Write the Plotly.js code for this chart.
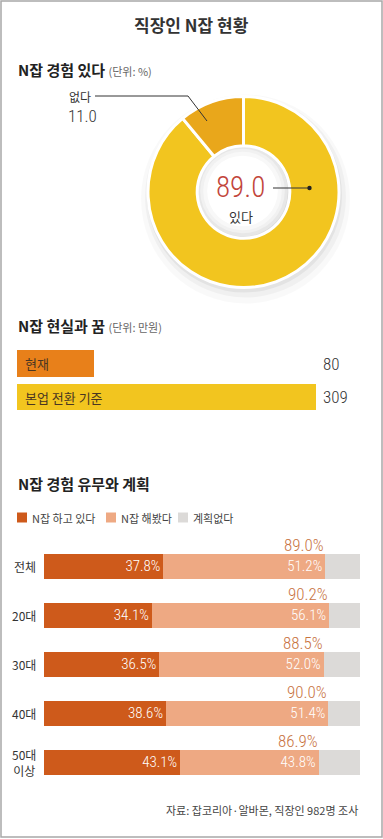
<!DOCTYPE html>
<html><head><meta charset="utf-8">
<script src="https://cdn.plot.ly/plotly-3.0.1.min.js"></script>
<style>html,body{margin:0;padding:0;background:#fff;}#chart{width:383px;height:839px;}</style>
</head><body><div id="chart"></div>
<script>
// ---- Data ----
const donutLabels = ['있다', '없다'];
const donutValues = [89.0, 11.0];

const incomeLabels = ['현재', '본업 전환 기준'];
const incomeValues = [80, 309];

const groupLabels = ['전체', '20대', '30대', '40대', '50대<br>이상'];
const doingValues = [37.8, 34.1, 36.5, 38.6, 43.1];
const triedValues = [51.2, 56.1, 52.0, 51.4, 43.8];
const noPlanValues = [11.0, 9.8, 11.5, 10.0, 13.1];
const totalValues = [89.0, 90.2, 88.5, 90.0, 86.9];

const seriesNames = ['N잡 하고 있다', 'N잡 해봤다', '계획없다'];

// ---- Helpers ----
const W = 383, H = 839;
const px = x => x / W;
const py = y => 1 - y / H;
const KR = '"Noto Sans CJK KR", "Noto Sans", sans-serif';
const NUM = '"Roboto Condensed", Roboto, "Noto Sans CJK KR", sans-serif';
const NUMW = 300;

const C_DOING = '#CE5A1B', C_TRIED = '#EEA983', C_NO = '#DCDAD8';

function circle(cx, cy, r, fill, layer) {
  return {type: 'circle', xref: 'paper', yref: 'paper', layer: layer || 'below',
    x0: px(cx - r), x1: px(cx + r), y0: py(cy + r), y1: py(cy - r),
    fillcolor: fill, line: {width: 0}};
}

const donutCx = 243.5, donutCy = 192, donutR = 95.5;

// ---- Traces ----
const traces = [];
traces.push({
  type: 'pie', values: donutValues, labels: donutLabels, sort: false,
  direction: 'clockwise', rotation: 0, hole: 0.485,
  marker: {colors: ['#F2C51F', '#E9A71B'], line: {color: '#ffffff', width: 3}},
  textinfo: 'none', hoverinfo: 'skip', showlegend: false,
  domain: {x: [px(donutCx - donutR), px(donutCx + donutR)], y: [py(donutCy + donutR), py(donutCy - donutR)]}
});

traces.push({
  type: 'bar', orientation: 'h', x: incomeValues, y: incomeLabels,
  xaxis: 'x', yaxis: 'y', width: 0.79,
  marker: {color: ['#E8801A', '#F2C51F']}, hoverinfo: 'skip', showlegend: false
});

const fmt = v => v.toFixed(1) + '%';
[[doingValues, C_DOING, true], [triedValues, C_TRIED, true], [noPlanValues, C_NO, false]].forEach((s, i) => {
  traces.push({
    type: 'bar', orientation: 'h', x: s[0], y: groupLabels, name: seriesNames[i],
    xaxis: 'x2', yaxis: 'y2', width: 0.51,
    marker: {color: s[1]},
    text: s[2] ? s[0].map(fmt) : undefined,
    textposition: s[2] ? 'inside' : 'none',
    insidetextanchor: 'end',
    textfont: {family: NUM, size: 15, color: '#ffffff', weight: NUMW},
    hoverinfo: 'skip', showlegend: false
  });
});

// ---- Annotations ----
const ann = [];
ann.push({xref: 'paper', yref: 'paper', x: px(191.5), y: py(25), xanchor: 'center', yanchor: 'middle',
  text: '<b>직장인 N잡 현황</b>', showarrow: false, font: {family: KR, size: 17, color: '#333'}});

function heading(y, main, unit) {
  ann.push({xref: 'paper', yref: 'paper', x: px(16), y: py(y), xanchor: 'left', yanchor: 'middle', showarrow: false,
    text: '<b>' + main + '</b>' + (unit ? ' <span style="font-size:11px;color:#666">' + unit + '</span>' : ''),
    font: {family: KR, size: 15, color: '#222'}});
}
heading(69, 'N잡 경험 있다', '(단위: %)');
heading(325, 'N잡 현실과 꿈', '(단위: 만원)');
heading(483, 'N잡 경험 유무와 계획', '');

// donut labels
ann.push({xref: 'paper', yref: 'paper', x: px(67), y: py(96), xanchor: 'left', yanchor: 'middle', showarrow: false,
  text: donutLabels[1], font: {family: KR, size: 12, color: '#333'}});
ann.push({xref: 'paper', yref: 'paper', x: px(66), y: py(116), xanchor: 'left', yanchor: 'middle', showarrow: false,
  text: donutValues[1].toFixed(1), font: {family: NUM, size: 17, color: '#333', weight: NUMW}});
ann.push({xref: 'paper', yref: 'paper', x: px(240), y: py(187), xanchor: 'center', yanchor: 'middle', showarrow: false,
  text: donutValues[0].toFixed(1), font: {family: NUM, size: 29, color: '#C2453A', weight: NUMW}});
ann.push({xref: 'paper', yref: 'paper', x: px(241), y: py(216), xanchor: 'center', yanchor: 'middle', showarrow: false,
  text: donutLabels[0], font: {family: KR, size: 13, color: '#333'}});

// income bars
incomeLabels.forEach((lab, i) => {
  ann.push({xref: 'x', yref: 'y', x: 0, y: lab, xanchor: 'left', yanchor: 'middle', xshift: 6, showarrow: false,
    text: lab, font: {family: KR, size: 13, color: '#4a3622'}});
  ann.push({xref: 'paper', yref: 'y', x: px(321), y: lab, xanchor: 'left', yanchor: 'middle', showarrow: false,
    text: String(incomeValues[i]), font: {family: NUM, size: 17, color: '#333', weight: NUMW}});
});

// group labels and totals
groupLabels.forEach((lab, i) => {
  ann.push({xref: 'paper', yref: 'y2', x: px(38), y: lab, xanchor: 'right', yanchor: 'middle', showarrow: false,
    text: lab, align: 'center', font: {family: KR, size: 12, color: '#333'}});
  ann.push({xref: 'x2', yref: 'y2', x: totalValues[i], y: lab, xanchor: 'right', yanchor: 'middle', yshift: 21, xshift: 1,
    showarrow: false, text: fmt(totalValues[i]), font: {family: NUM, size: 17, color: '#C8733F', weight: NUMW}});
});

// legend
const legendX = [[17, 31], [106, 120], [178, 192]];
const legendColors = [C_DOING, C_TRIED, C_NO];
const shapes = [];
seriesNames.forEach((n, i) => {
  shapes.push({type: 'rect', xref: 'paper', yref: 'paper', x0: px(legendX[i][0]), x1: px(legendX[i][0] + 10),
    y0: py(522.5), y1: py(512.5), fillcolor: legendColors[i], line: {width: 0}});
  ann.push({xref: 'paper', yref: 'paper', x: px(legendX[i][1] - 1), y: py(517.5), xanchor: 'left', yanchor: 'middle', showarrow: false,
    text: n, font: {family: KR, size: 11, color: '#444'}});
});

// source
ann.push({xref: 'paper', yref: 'paper', x: px(360), y: py(810), xanchor: 'right', yanchor: 'middle', showarrow: false,
  text: '자료: 잡코리아·알바몬, 직장인 982명 조사', font: {family: KR, size: 11, color: '#444'}});

// ---- Shapes ----
// soft drop shadow under donut
shapes.push(circle(donutCx + 2, donutCy + 7, donutR + 9, 'rgba(0,0,0,0.025)'));
shapes.push(circle(donutCx + 2, donutCy + 5, donutR + 5, 'rgba(0,0,0,0.035)'));
shapes.push(circle(donutCx + 1, donutCy + 3, donutR + 2, 'rgba(0,0,0,0.05)'));
// inner shading of the hole
const holeR = donutR * 0.485;
shapes.push(circle(donutCx, donutCy, holeR + 1, '#d9d9d9'));
shapes.push(circle(donutCx - 0.5, donutCy - 0.5, holeR - 1.5, '#e7e7e7'));
shapes.push(circle(donutCx - 1, donutCy - 1, holeR - 4, '#f1f1f1'));
shapes.push(circle(donutCx - 1, donutCy - 1, holeR - 7, '#f8f8f8'));
shapes.push(circle(donutCx - 1, donutCy - 1, holeR - 11, '#ffffff'));

// leader lines
shapes.push({type: 'path', xref: 'paper', yref: 'paper', layer: 'above',
  path: `M ${px(95)} ${py(96)} L ${px(188)} ${py(96)} L ${px(207)} ${py(121)}`,
  line: {color: '#333', width: 1}});
shapes.push({type: 'line', xref: 'paper', yref: 'paper', layer: 'above',
  x0: px(273), x1: px(309), y0: py(188), y1: py(188), line: {color: '#333', width: 1.2}});
shapes.push(circle(309.5, 188, 2.2, '#222', 'above'));

// frame
shapes.push({type: 'rect', xref: 'paper', yref: 'paper', layer: 'above',
  x0: px(1), x1: px(382), y0: py(837), y1: py(1), line: {color: '#a8a8a8', width: 1.5}, fillcolor: 'rgba(0,0,0,0)'});

const layout = {
  width: W, height: H, margin: {l: 0, r: 0, t: 0, b: 0},
  paper_bgcolor: '#ffffff', plot_bgcolor: 'rgba(0,0,0,0)',
  barmode: 'stack', showlegend: false,
  font: {family: KR},
  xaxis: {domain: [px(17), px(316)], range: [0, 309], visible: false, fixedrange: true},
  yaxis: {domain: [py(413.75), py(346.75)], type: 'category', range: [1.5, -0.5], visible: false, fixedrange: true},
  xaxis2: {domain: [px(44), px(360)], range: [0, 100], visible: false, fixedrange: true, anchor: 'y2'},
  yaxis2: {domain: [py(786.5), py(541.5)], type: 'category', range: [4.5, -0.5], visible: false, fixedrange: true, anchor: 'x2'},
  annotations: ann, shapes: shapes
};

Plotly.newPlot('chart', traces, layout, {displayModeBar: false, staticPlot: true});
</script>
</body></html>
